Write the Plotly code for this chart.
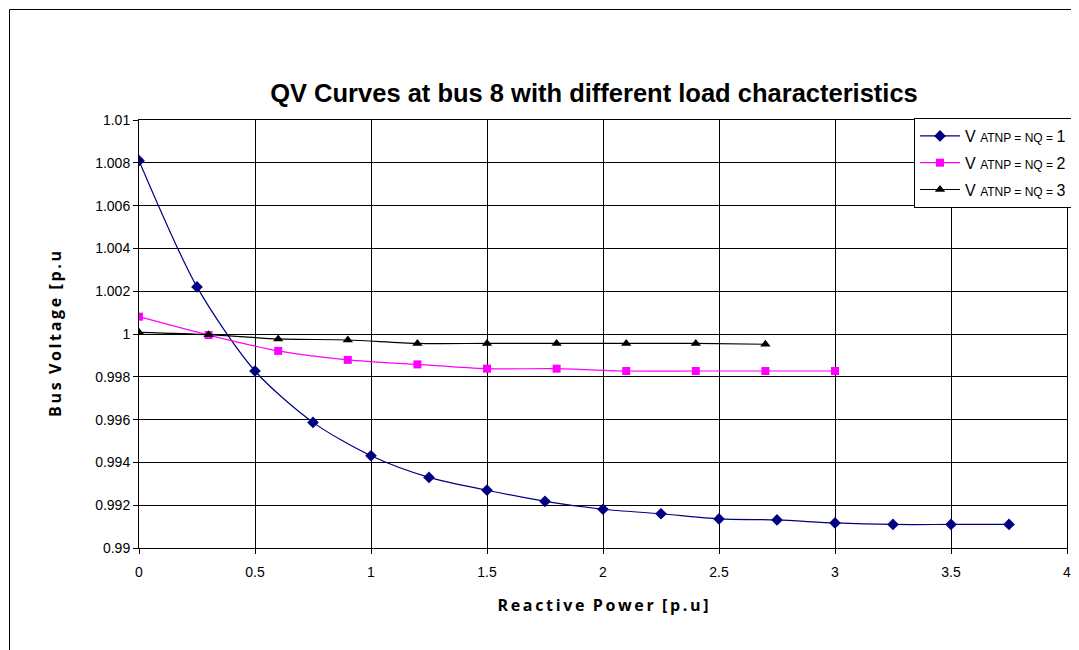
import plotly.graph_objects as go

# Series 1: V ATNP = NQ = 1
q1 = [0, 0.25, 0.5, 0.75, 1.0, 1.25, 1.5, 1.75, 2.0, 2.25, 2.5, 2.75, 3.0, 3.25, 3.5, 3.75]
v1 = [1.0081, 1.0022, 0.99827, 0.99587, 0.99431, 0.9933, 0.9927, 0.99218, 0.99181,
      0.9916, 0.99136, 0.99131, 0.99117, 0.9911, 0.9911, 0.9911]
# Series 2: V ATNP = NQ = 2
q2 = [0, 0.3, 0.6, 0.9, 1.2, 1.5, 1.8, 2.1, 2.4, 2.7, 3.0]
v2 = [1.00081, 0.99995, 0.99921, 0.99879, 0.99858, 0.99838, 0.99838, 0.99827, 0.99827, 0.99827, 0.99827]
# Series 3: V ATNP = NQ = 3
q3 = [0, 0.3, 0.6, 0.9, 1.2, 1.5, 1.8, 2.1, 2.4, 2.7]
v3 = [1.00008, 0.99997, 0.99977, 0.99972, 0.99956, 0.99956, 0.99956, 0.99956, 0.99956, 0.99952]

names = ["V <span style='font-size:12px'>ATNP = NQ = </span>1",
         "V <span style='font-size:12px'>ATNP = NQ = </span>2",
         "V <span style='font-size:12px'>ATNP = NQ = </span>3"]

x_ticks = [0, 0.5, 1, 1.5, 2, 2.5, 3, 3.5, 4]
x_labels = ["0", "0.5", "1", "1.5", "2", "2.5", "3", "3.5", "4"]
y_ticks = [0.99, 0.992, 0.994, 0.996, 0.998, 1.0, 1.002, 1.004, 1.006, 1.008, 1.01]
y_labels = ["0.99", "0.992", "0.994", "0.996", "0.998", "1", "1.002", "1.004", "1.006", "1.008", "1.01"]

TS = "\u2009"
def spaced(s):
    return TS.join(s)

fig = go.Figure()
fig.add_trace(go.Scatter(x=q1, y=v1, name=names[0], mode="lines+markers", legendgroup="a",
                         line=dict(color="#000080", width=1.2, shape="spline", smoothing=0.8),
                         marker=dict(symbol="diamond", size=9, color="#000080")))
fig.add_trace(go.Scatter(x=q2, y=v2, name=names[1], mode="lines+markers", legendgroup="b",
                         line=dict(color="#FF00FF", width=1.2, shape="spline", smoothing=0.8),
                         marker=dict(symbol="square", size=8, color="#FF00FF")))
fig.add_trace(go.Scatter(x=q3, y=v3, name=names[2], mode="lines+markers", legendgroup="c",
                         line=dict(color="#000000", width=1.2, shape="spline", smoothing=0.8),
                         marker=dict(symbol="triangle-up", size=9, color="#000000")))

# page has an 8px body margin: convert page pixels to figure pixels
OFF = 8
W, H = 1079 - OFF, 650 - OFF
px_l, px_r, px_t, px_b = 139 - OFF, 1067 - OFF, 120 - OFF, 548 - OFF

def paper_x(px):
    return (px - OFF - px_l) / (px_r - px_l)

def paper_y(py):
    return (px_b - (py - OFF)) / (px_b - px_t)

fig.add_shape(type="rect", xref="paper", yref="paper",
              x0=paper_x(9.5), x1=paper_x(1077.5), y0=paper_y(670), y1=paper_y(9.5),
              line=dict(color="#000000", width=1), layer="below")

fig.update_layout(
    width=W, height=H,
    margin=dict(l=px_l, r=W - px_r, t=px_t, b=H - px_b, autoexpand=False),
    paper_bgcolor="white", plot_bgcolor="white",
    font=dict(family="Liberation Sans, Arial, sans-serif", color="#000000"),
    title=dict(text="<b>QV Curves at bus 8 with different load characteristics</b>",
               x=paper_x(594), xanchor="center", xref="paper", y=1 - (93 - OFF) / H, yanchor="middle",
               font=dict(size=25.5, color="#000000")),
    showlegend=True,
    legend=dict(x=paper_x(1072), y=paper_y(118), xanchor="right", yanchor="top",
                bgcolor="white", bordercolor="#000000", borderwidth=1,
                font=dict(size=16, color="#000000"), tracegroupgap=3,
                itemwidth=40),
)
fig.update_xaxes(range=[0, 4], tickvals=x_ticks, ticktext=x_labels,
                 showgrid=True, gridcolor="#000000", gridwidth=1,
                 showline=True, linecolor="#000000", linewidth=1, mirror=True,
                 ticks="outside", ticklen=5, tickcolor="#000000",
                 tickfont=dict(size=14), zeroline=False, ticklabelstandoff=6,
                 title=dict(text="<b>" + spaced("Reactive") + "  " + spaced("Power") + "  " + spaced("[p.u]") + "</b>",
                            font=dict(size=16, family="Open Sans, sans-serif"), standoff=21))
fig.update_yaxes(range=[0.99, 1.01], tickvals=y_ticks, ticktext=y_labels,
                 showgrid=True, gridcolor="#000000", gridwidth=1,
                 showline=True, linecolor="#000000", linewidth=1, mirror=True,
                 ticks="outside", ticklen=5, tickcolor="#000000",
                 tickfont=dict(size=14), zeroline=False,
                 title=dict(text="<b>" + spaced("Bus") + "  " + spaced("Voltage") + "  " + spaced("[p.u") + "</b>",
                            font=dict(size=16, family="Open Sans, sans-serif"), standoff=29))

fig.write_html("out.html")
